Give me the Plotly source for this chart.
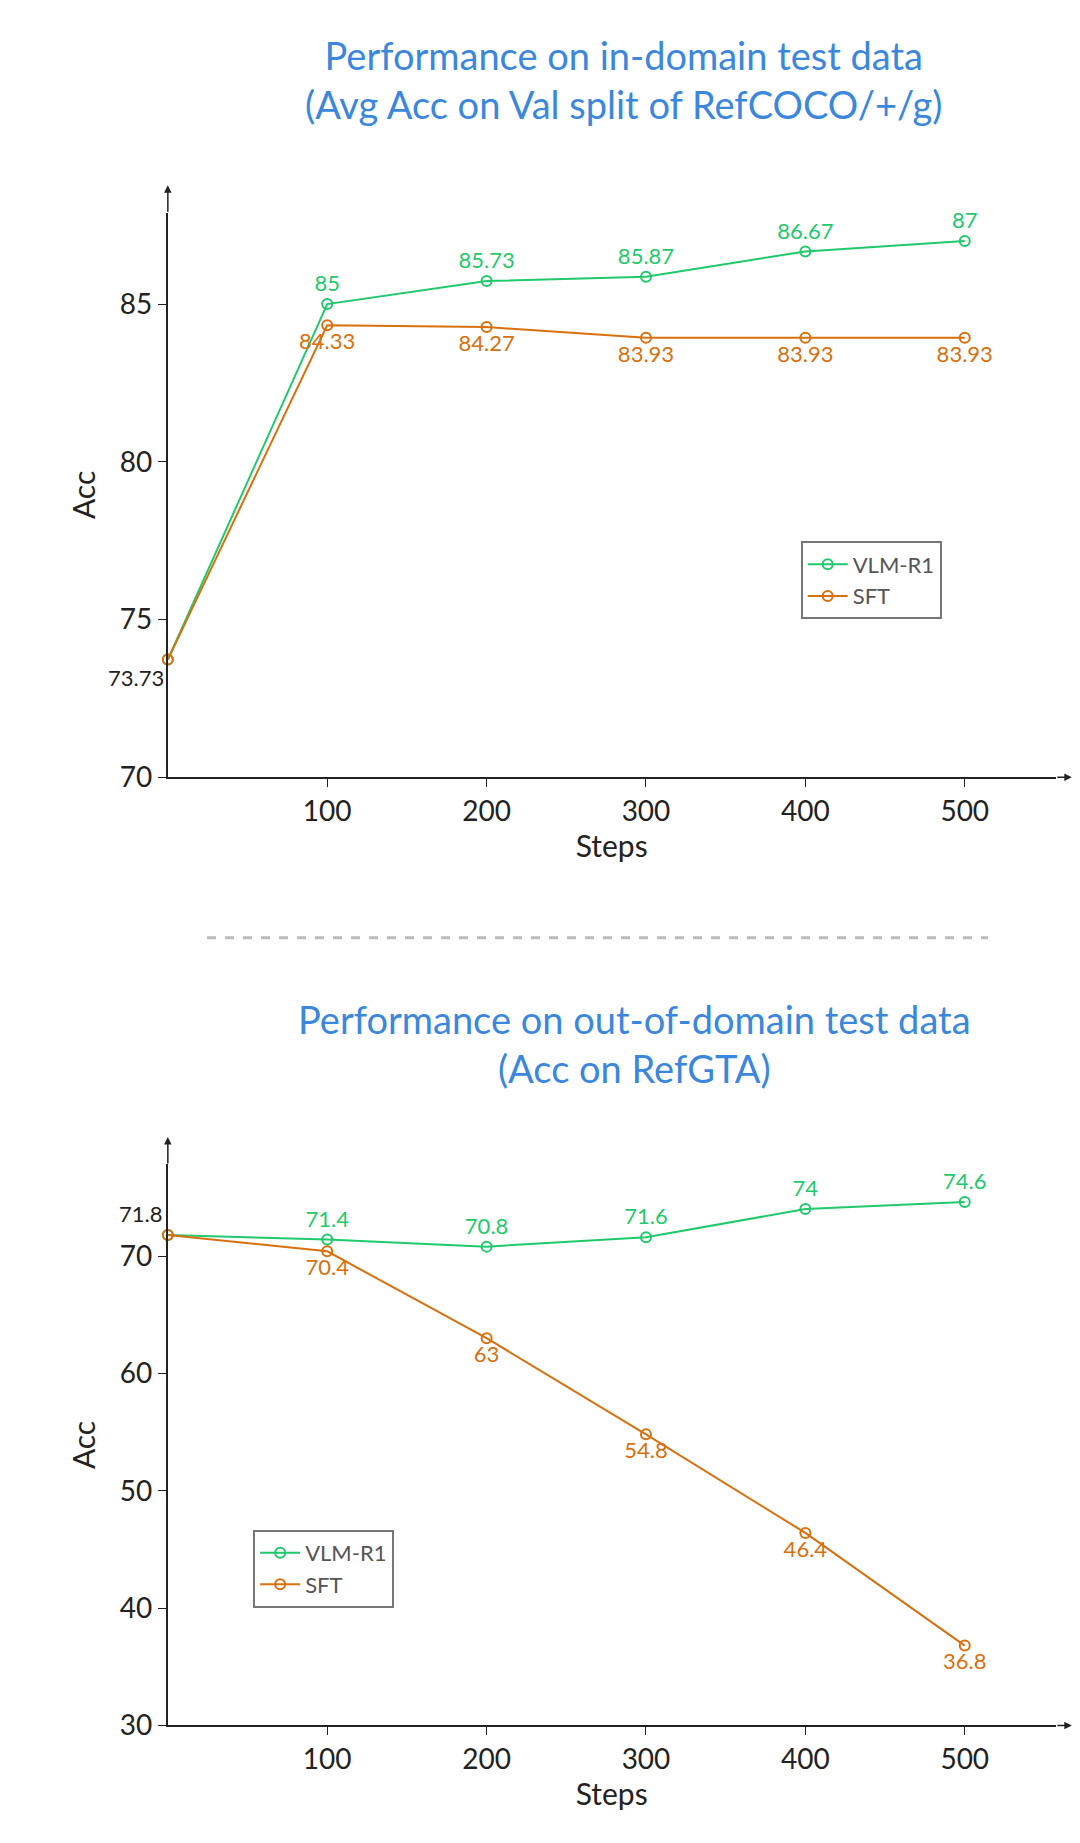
import plotly.graph_objects as go

steps = [0, 100, 200, 300, 400, 500]
in_vlm = [73.73, 85.0, 85.73, 85.87, 86.67, 87.0]
in_sft = [73.73, 84.33, 84.27, 83.93, 83.93, 83.93]
out_vlm = [71.8, 71.4, 70.8, 71.6, 74.0, 74.6]
out_sft = [71.8, 70.4, 63.0, 54.8, 46.4, 36.8]
xticks = [100, 200, 300, 400, 500]

GREEN = "#1fc96c"
ORANGE = "#d8700d"
BLUE = "#3b87dd"
FONT = "Lato"

fig = go.Figure()

def add_series(x, y, name, color, xa, ya, legend, pos):
    text = [""] + [f"{v:g}" for v in y[1:]]
    fig.add_trace(go.Scatter(
        x=x, y=y, name=name, mode="lines+markers+text", text=text,
        textposition=pos, textfont=dict(color=color, size=22, family=FONT),
        line=dict(color=color, width=2),
        marker=dict(symbol="circle-open", size=10, color=color, line=dict(width=2)),
        xaxis=xa, yaxis=ya, legend=legend, cliponaxis=False))

add_series(steps, in_vlm, "VLM-R1", GREEN, "x", "y", "legend", "top center")
add_series(steps, in_sft, "SFT", ORANGE, "x", "y", "legend", "bottom center")
add_series(steps, out_vlm, "VLM-R1", GREEN, "x2", "y2", "legend2", "top center")
add_series(steps, out_sft, "SFT", ORANGE, "x2", "y2", "legend2", "bottom center")

fig.add_annotation(x=0, y=in_vlm[0], xref="x", yref="y", text=f"{in_vlm[0]:g}",
                   showarrow=False, xanchor="right", yanchor="top", xshift=-2, yshift=-2,
                   font=dict(size=22, color="#222", family=FONT))
fig.add_annotation(x=0, y=out_vlm[0], xref="x2", yref="y2", text=f"{out_vlm[0]:g}",
                   showarrow=False, xanchor="right", yanchor="bottom", xshift=-4, yshift=6,
                   font=dict(size=22, color="#222", family=FONT))

ax = dict(showline=True, linecolor="#222", linewidth=2, showgrid=False, zeroline=False,
          ticks="outside", ticklen=8, tickcolor="#222",
          tickfont=dict(size=28, color="#222", family=FONT))
XD = [0.148, 0.970]
tfont = dict(size=30, family=FONT, color="#222")
fig.update_layout(
    width=1080, height=1843, margin=dict(l=0, r=0, t=0, b=0),
    paper_bgcolor="white", plot_bgcolor="white",
    xaxis=dict(ax, domain=XD, range=[0, 557], tickvals=xticks, anchor="y",
               title=dict(text="Steps", font=tfont, standoff=5)),
    yaxis=dict(ax, domain=[0.579, 0.888], range=[70, 87.9], tickvals=[70, 75, 80, 85], anchor="x",
               title=dict(text="Acc", font=tfont, standoff=15)),
    xaxis2=dict(ax, domain=XD, range=[0, 557], tickvals=xticks, anchor="y2",
                title=dict(text="Steps", font=tfont, standoff=5)),
    yaxis2=dict(ax, domain=[0.060, 0.367], range=[30, 77.8], tickvals=[30, 40, 50, 60, 70], anchor="x2",
                title=dict(text="Acc", font=tfont, standoff=15)),
    legend=dict(x=0.734, y=0.708, xanchor="left", yanchor="top", bordercolor="#777", borderwidth=2,
                bgcolor="white", font=dict(size=22, color="#555", family=FONT),
                itemwidth=40, tracegroupgap=10),
    legend2=dict(x=0.227, y=0.167, xanchor="left", yanchor="top", bordercolor="#777", borderwidth=2,
                 bgcolor="white", font=dict(size=22, color="#555", family=FONT),
                 itemwidth=40, tracegroupgap=10),
    showlegend=True,
)

fig.add_annotation(x=0.57, y=1 - 22/1843, xref="paper", yref="paper", yanchor="top",
                   text="Performance on in-domain test data<br>(Avg Acc on Val split of RefCOCO/+/g)",
                   showarrow=False, font=dict(size=38, color=BLUE, family=FONT))
fig.add_annotation(x=0.58, y=1 - 995/1843, xref="paper", yref="paper", yanchor="top",
                   text="Performance on out-of-domain test data<br>(Acc on RefGTA)",
                   showarrow=False, font=dict(size=38, color=BLUE, family=FONT))

fig.add_shape(type="line", xref="paper", yref="paper", x0=199/1080, x1=980/1080,
              y0=1 - 938/1843, y1=1 - 938/1843, line=dict(color="#bbb", width=3, dash="dash"))

for (x1, y1, dx, dy) in [(0.985, 0.579, -16, 0), (0.148, 0.903, 0, 28),
                         (0.985, 0.060, -16, 0), (0.148, 0.382, 0, 28)]:
    fig.add_annotation(x=x1, y=y1, ax=dx, ay=dy, xref="paper", yref="paper",
                       axref="pixel", ayref="pixel", showarrow=True, arrowhead=2,
                       arrowsize=1, arrowwidth=1.5, arrowcolor="#222", text="")

fig.write_html("out.html")
